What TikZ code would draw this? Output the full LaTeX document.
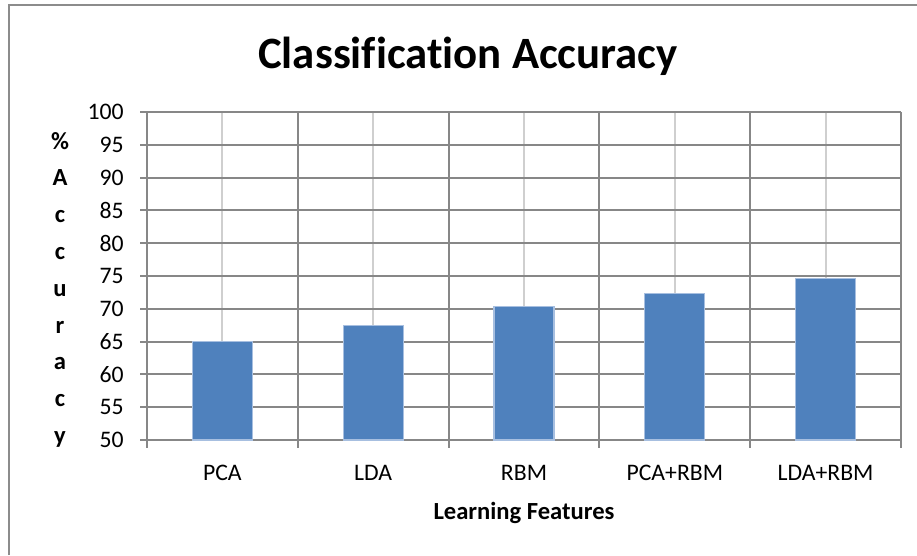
\documentclass[tikz,border=0pt]{standalone}
\usepackage{fontspec}
\setmainfont{Carlito}[Ligatures=NoCommon]
\usetikzlibrary{calc}
\definecolor{barblue}{HTML}{4F81BD}
\definecolor{barrim}{HTML}{A7BFE0}
\definecolor{gridgray}{HTML}{878787}
\definecolor{minorgray}{HTML}{CFCFCF}
\definecolor{framegray}{HTML}{8C8C8C}
\tikzset{
  majorgrid/.style={gridgray, line width=1.1pt},
  minorgrid/.style={minorgray, line width=1.1pt},
  bar/.style={fill=barblue, draw=barrim, line width=0.6pt},
  ticklabel/.style={anchor=east, inner sep=0pt, font=\fontsize{13.5}{15}\selectfont},
  catlabel/.style={inner sep=0pt, font=\fontsize{13.5}{15}\selectfont},
  axistitle/.style={inner sep=0pt, font=\bfseries\fontsize{14}{16}\selectfont},
}
% value -> pixel row
\newcommand{\ypos}[1]{440-(#1-50)*6.56}

\begin{document}
\begin{tikzpicture}[x=0.02cm, y=-0.02cm]
        \useasboundingbox (0,0) rectangle (917,555);
        \draw[framegray, line width=1.6pt] (9,555) -- (9,5) -- (917,5);
        \node[font=\bfseries\fontsize{25.5}{29}\selectfont, inner sep=0pt] (title) at (468,56) {Classification Accuracy};
        % grid
        \foreach \c in {0,...,4}
            \draw[minorgrid] ({222.4+150.8*\c},112) -- ({222.4+150.8*\c},440);
        \foreach \v in {50,55,...,100} {
            \draw[majorgrid] (140,{\ypos{\v}}) -- (901,{\ypos{\v}});
            \node[ticklabel] (tick\v) at (124,{\ypos{\v}}) {\v};
        }
        \foreach \c in {0,...,5}
            \draw[majorgrid] ({147+150.8*\c},112) -- ({147+150.8*\c},448);
        % bars
        \foreach \v/\name [count=\i from 0] in {65/PCA, 67.5/LDA, 70.3/RBM, 72.4/PCA+RBM, 74.6/LDA+RBM} {
            \draw[bar] ({192.4+150.8*\i},440) rectangle ({252.4+150.8*\i},{\ypos{\v}});
            \node[catlabel] (cat\i) at ({222.4+150.8*\i},473) {\name};
        }
        % axis titles
        \node[axistitle] (xtitle) at (524,513) {Learning Features};
        \foreach \ch [count=\k from 0] in {\%,A,c,c,u,r,a,c,y}
            \node[axistitle, anchor=base] (ylet\k) at (60,{149+36.8*\k}) {\ch};
\end{tikzpicture}
\end{document}
